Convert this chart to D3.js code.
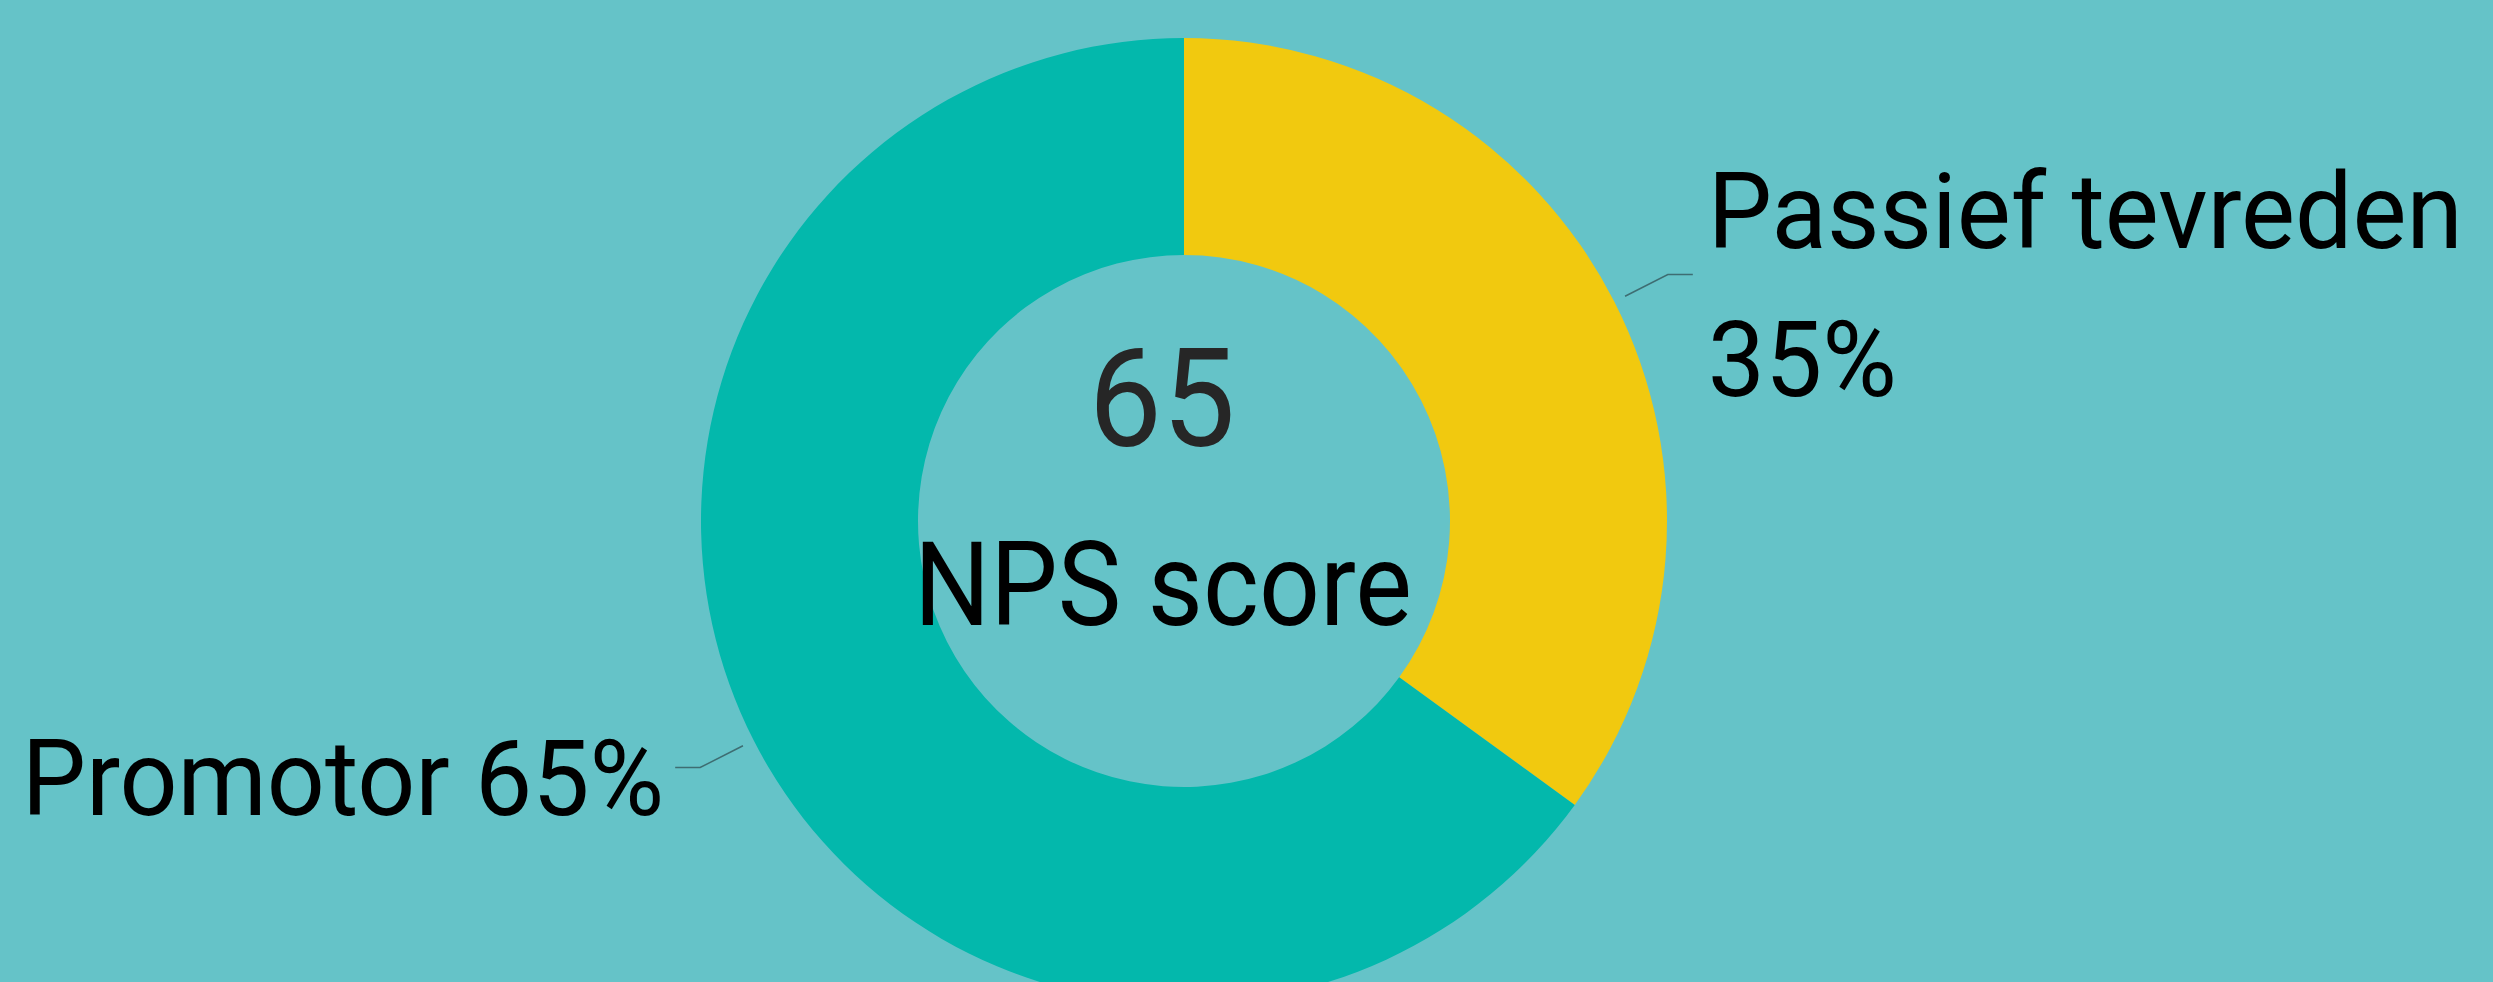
<!DOCTYPE html>
<html>
<head>
<meta charset="utf-8">
<script src="https://cdn.jsdelivr.net/npm/d3@7"></script>
<style>
  html, body { margin: 0; padding: 0; background: #65c3c8; overflow: hidden; }
  text { font-family: Roboto, "Open Sans", sans-serif; }
</style>
</head>
<body>
<svg id="chart"></svg>
<script>
// data
const categories = ['Passief tevreden', 'Promotor']
const values = [35, 65]
const colors = ['#f1c90f', '#03b8ac']
const npsScore = 65
const centerLabel = 'NPS score'

const width = 2493,
  height = 982,
  cx = 1184,
  cy = 521,
  outerR = 483,
  innerR = 266

const svg = d3.select('#chart')
  .attr('width', width)
  .attr('height', height)

const g = svg.append('g')
  .attr('transform', `translate(${cx}, ${cy})`)

const pie = d3.pie().sort(null).value(d => d.value)
const arcs = pie(categories.map((c, i) => ({name: c, value: values[i], color: colors[i]})))

const arc = d3.arc().innerRadius(innerR).outerRadius(outerR)
g.selectAll('path.slice')
  .data(arcs)
  .enter().append('path')
  .attr('class', 'slice')
  .attr('d', arc)
  .style('fill', d => d.data.color)

// leader lines
const lineStart = d3.arc().innerRadius(495).outerRadius(495)
const lineBend = d3.arc().innerRadius(543).outerRadius(543)
const total = d3.sum(values)

const fontSize = 105.5, capH = 75, lineH = 148

arcs.forEach(d => {
  const p0 = lineStart.centroid(d)
  const p1 = lineBend.centroid(d)
  const right = p1[0] > 0
  const p2 = [p1[0] + (right ? 25 : -25), p1[1]]
  g.append('path')
    .attr('d', d3.line()([p0, p1, p2]))
    .style('fill', 'none')
    .style('stroke', '#3e6d72')
    .style('stroke-width', 1.5)

  const pct = Math.round(d.data.value / total * 100) + '%'
  const lines = right ? [d.data.name, pct] : [d.data.name + ' ' + pct]
  const top = p2[1] + 10 - ((lines.length - 1) * lineH + capH) / 2 + capH
  const t = g.append('text')
    .attr('class', 'label')
    .attr('text-anchor', right ? 'start' : 'end')
    .style('font-size', fontSize + 'px')
    .style('fill', '#000')
  lines.forEach((l, i) => {
    t.append('tspan')
      .attr('x', p2[0] + (right ? 15 : -11))
      .attr('y', top + i * lineH)
      .text(l)
  })
})

// the original font is narrower than Roboto: squeeze to the width of the longest label
const probe = g.select('text.label tspan').node()
const squeeze = 755 / probe.getComputedTextLength()

g.selectAll('text.label tspan').each(function() {
  const w = this.getComputedTextLength()
  d3.select(this).attr('textLength', w * squeeze).attr('lengthAdjust', 'spacingAndGlyphs')
})

// center text
const center = g.append('g')
const score = center.append('text')
  .attr('x', -22)
  .attr('y', 446 - cy)
  .attr('text-anchor', 'middle')
  .style('font-size', '138px')
  .style('fill', '#262626')
  .text(npsScore)
const label = center.append('text')
  .attr('x', -21)
  .attr('y', 625 - cy)
  .attr('text-anchor', 'middle')
  .style('font-size', '117px')
  .style('fill', '#000')
  .text(centerLabel)

score.attr('textLength', 147).attr('lengthAdjust', 'spacingAndGlyphs')
label.attr('textLength', 498).attr('lengthAdjust', 'spacingAndGlyphs')
</script>
</body>
</html>
